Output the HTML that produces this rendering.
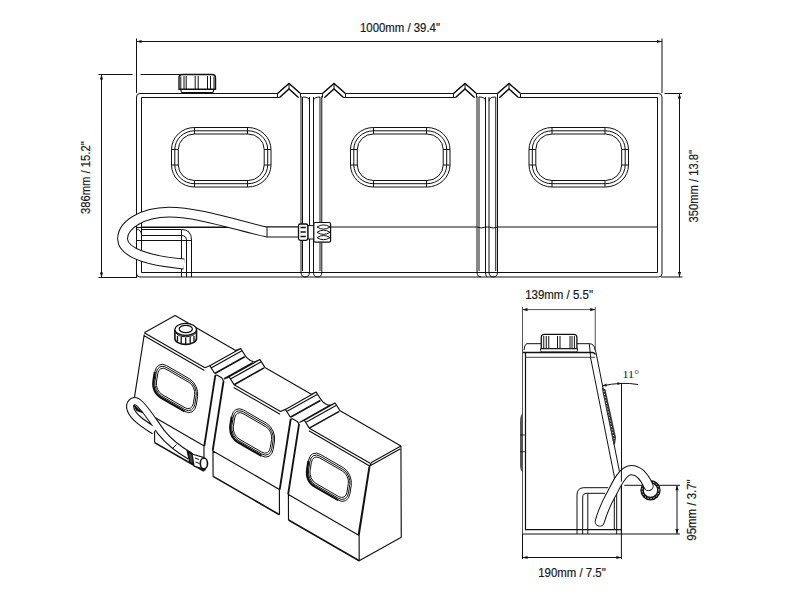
<!DOCTYPE html>
<html><head><meta charset="utf-8">
<style>
html,body{margin:0;padding:0;background:#fff;width:800px;height:600px;overflow:hidden}
svg{display:block}
text{font-family:"Liberation Sans",sans-serif;fill:#1a1a1a;stroke:#1a1a1a;stroke-width:0.2px}
</style></head><body>
<svg width="800" height="600" viewBox="0 0 800 600">
<defs>
<g id="winshape">
<rect x="171.5" y="127.5" width="99.5" height="59.5" rx="23" ry="22"/>
<rect x="174.8" y="130.8" width="92.9" height="52.9" rx="19.7" ry="18.7"/>
<rect x="178.3" y="134" width="85.9" height="46.5" rx="16.2" ry="15.5"/>
</g>
<g id="winiso">
<rect x="171.5" y="127.5" width="99.5" height="59.5" rx="23" ry="22" vector-effect="non-scaling-stroke"/>
<rect x="174.8" y="130.8" width="92.9" height="52.9" rx="19.7" ry="18.7" vector-effect="non-scaling-stroke"/>
<rect x="178.3" y="134" width="85.9" height="46.5" rx="16.2" ry="15.5" vector-effect="non-scaling-stroke"/>
<path d="M171.5 150 V164 Q171.5 187 194.5 187 H248" stroke-width="2.2" vector-effect="non-scaling-stroke"/>
</g>
</defs>
<g fill="none" stroke="#111" stroke-width="1">
<!-- ===== FRONT VIEW: dimensions ===== -->
<path d="M136.5 38.5V93 M662 38.5V93 M136.5 41.5H662"/>
<path d="M98.5 74.5H132.5 M140.5 74.5H180 M101.5 74.5V277.5 M98.5 277.5H137"/>
<path d="M664.5 93.5H682 M679.5 93.5V277 M661 277H682.5"/>
</g>
<g fill="#111" stroke="none">
<path d="M136.5 41.5l5 -1.6v3.2z M662 41.5l-5 -1.6v3.2z"/>
<path d="M101.5 74.5l-1.6 5h3.2z M101.5 277.5l-1.6 -5h3.2z"/>
<path d="M679.5 93.5l-1.6 5h3.2z M679.5 277l-1.6 -5h3.2z"/>
</g>
<text x="360" y="31.6" font-size="12" textLength="80" lengthAdjust="spacingAndGlyphs">1000mm / 39.4"</text>
<text transform="translate(90,214) rotate(-90)" font-size="12" textLength="72.7" lengthAdjust="spacingAndGlyphs">386mm / 15.2"</text>
<text transform="translate(698,222.5) rotate(-90)" font-size="12" textLength="72.5" lengthAdjust="spacingAndGlyphs">350mm / 13.8"</text>

<g fill="none" stroke="#111" stroke-width="1">
<!-- tank outline top with notches -->
<path d="M136.5 277V97 Q136.5 93.5 140 93.5 H277.5 L289 83.5 L300.5 93.5 H322.5 L334 83.5 L345.5 93.5 H453.5 L465 83.5 L476.5 93.5 H497.5 L509 83.5 L520.5 93.5 H658.5 Q662 93.5 662 97 V273.5 Q662 277 658.5 277 H140 Q136.5 277 136.5 273.5"/>
<path d="M141.5 272.5V97.5 H279.5 L289 89 L298.5 97.5 M324.5 97.5 L334 89 L343.5 97.5 H455.5 L465 89 L474.5 97.5 M499.5 97.5 L509 89 L518.5 97.5 H657.5 V272.5 H141.5"/>
<path d="M277.5 93.5 L289 83.5 L300.5 93.5 M322.5 93.5 L334 83.5 L345.5 93.5 M453.5 93.5 L465 83.5 L476.5 93.5 M497.5 93.5 L509 83.5 L520.5 93.5 M279.5 97.5 L289 89 L298.5 97.5 M324.5 97.5 L334 89 L343.5 97.5 M455.5 97.5 L465 89 L474.5 97.5 M499.5 97.5 L509 89 L518.5 97.5" stroke-width="1.35"/>
<path d="M277.5 93.5V97.5 M289 83.5V89 M300.5 93.5V97.5 M322.5 93.5V97.5 M334 83.5V89 M345.5 93.5V97.5 M453.5 93.5V97.5 M465 83.5V89 M476.5 93.5V97.5 M497.5 93.5V97.5 M509 83.5V89 M520.5 93.5V97.5"/>
<!-- separators -->
<path d="M301 96V272 Q301 277 305 277 M302.5 97V271 M309.5 97V272 Q309.5 277 305 277 M313.5 97V272 Q313.5 277 317.5 277 M320 97V271 M321.8 96V272 Q322 277 317.5 277"/>
<path d="M303 97Q309.5 97 309.5 101 M313.5 101 Q313.5 97 320 97"/>
<path d="M477 96V272 Q477 277 481 277 M479 97V271 M485.5 97V272 Q485.5 277 487.3 277 M489 97V272 Q489 277 493 277 M495.75 97V271 M497.5 96V272 Q497.5 277 493 277"/>
<path d="M479 97Q485.5 97 485.5 101 M489 101 Q489 97 495.5 97"/>
<!-- mid horizontal line -->
<path d="M141.5 227H298.5 M331 227H477 Q481 229 485.5 227 H489 Q493 229 497.5 227 H657.5"/>
<!-- windows -->
<g id="win">
<rect x="171.5" y="127.5" width="99.5" height="59.5" rx="23" ry="22"/>
<rect x="174.8" y="130.8" width="92.9" height="52.9" rx="19.7" ry="18.7"/>
<rect x="178.3" y="134" width="85.9" height="46.5" rx="16.2" ry="15.5"/>
<path d="M194.5 127.5V134 M247.5 127.5V134 M194.5 180.5V187 M247.5 180.5V187 M171.5 149.5H178.3 M171.5 165H178.3 M264.2 149.5H271 M264.2 165H271"/>
</g>
<use href="#win" x="179"/>
<use href="#win" x="357.5"/>
<!-- bracket -->
<path d="M136.5 227.5H300 M141.5 229.5H181.5 Q191.5 229.5 191.5 240 V277 M141.5 235.5H181.5 Q186.5 235.5 186.5 240.5 V277 M136.5 240.5H191.5 M181.5 229.5V277 M136.5 229 Q141.5 230 141.5 235"/>
<!-- hose -->
</g>
<g fill="none" stroke-linecap="butt">
<path d="M298.5 232 H267 C240 226.5 200 212.2 168.8 212.2 C142.5 212.5 122.75 224.5 122.55 238.9 C122.75 253 150 261 184 264" stroke="#111" stroke-width="10.8"/>
<path d="M298.5 232 H267 C240 226.5 200 212.2 168.8 212.2 C142.5 212.5 122.75 224.5 122.55 238.9 C122.75 253 150 261 184 264" stroke="#fff" stroke-width="8.8"/>
<path d="M267 227V237 M186.5 240V277 M191.5 240V277" stroke="#111" stroke-width="1"/>
</g>
<!-- connector -->
<g fill="#fff" stroke="#111" stroke-width="1">
<rect x="307.8" y="225.6" width="6" height="13.4"/>
<rect x="298.5" y="224" width="9.3" height="16.4" rx="1.8" stroke-width="1.3"/>
<rect x="313.8" y="222.5" width="16.8" height="19.7" rx="1.5" stroke-width="1.2"/>
</g>
<g fill="none" stroke="#111">
<path d="M300.5 227.5H305.8 M300.5 232H305.8 M300.5 236.5H305.8" stroke-width="1.6"/>
<path d="M317 227 Q323.5 222.8 330 227 Q323.5 231.2 317 227 M317 232.3 Q323.5 228.1 330 232.3 Q323.5 236.5 317 232.3 M317 237.6 Q323.5 233.4 330 237.6 Q323.5 241.8 317 237.6" stroke-width="1"/>
</g>
<!-- cap front view -->
<g fill="#fff" stroke="#111">
<path d="M181 89 H213.5 V91 Q213.5 92.6 212 92.6 H182.5 Q181 92.6 181 91 Z" stroke-width="1.1"/>
<path d="M179 89.2 V78 Q179 74.5 182.5 74.5 H212 Q215.5 74.5 215.5 78 V89.2 Z" stroke-width="1.4"/>
</g>
<g fill="none" stroke="#111" stroke-width="1">
<path d="M180.8 76.5V89 M184 76V89 M186.2 76V89 M195.2 76V89 M198.2 76V89 M207.5 76V89 M210.5 76V89 M214 76.5V89"/>
</g>

<g id="side" fill="none" stroke="#111" stroke-width="1">
<path d="M522.5 307V534 M595.25 307V350 M522.5 309.6H595.25" stroke="#555"/>
<path d="M526.5 343.7 H589.5 Q594 343.7 595 349.5 L596 352.5 L621.4 481.5 V534 H522.5"/>
<path d="M524 350 Q524.5 345 526.5 343.7 M589.3 343.7 L590.6 357"/>
<path d="M523 352.4H592.5 Q594.5 352.6 595.5 354.5" stroke-width="1.5"/>
<path d="M526 357.3H595" stroke="#444"/>
<path d="M525.5 352.4V529.6 H621.4" stroke-width="1.2"/>
<path d="M590.5 357.3 L614.3 476.3 V529.6"/>
<path d="M621.4 485.3V534 M624.3 485.3H680 M621.4 534H680 M677 485.3V534"/>
<path d="M522.5 534V559 M621.4 534V559 M522.5 557.5H621.4"/>
<path d="M621.5 383V483 M602 386 Q621 381.5 638 384.5"/>
<path d="M577 534V495 Q577 487.7 584 487.7 H608 M582.7 534V497 Q582.7 493.3 587 493.3 H605 M587.8 493.3V534 M616.7 493.3V534"/>
</g>
<g fill="#111" stroke="none">
<path d="M522.5 309.6l5 -1.6v3.2z M595.25 309.6l-5 -1.6v3.2z"/>
<path d="M522.5 557.5l5 -1.6v3.2z M621.4 557.5l-5 -1.6v3.2z"/>
<path d="M677 485.3l-1.6 5h3.2z M677 534l-1.6 -5h3.2z"/>
<path d="M621.5 383.5l-4 -1.3v2.8z M602.5 385.8l4 -2.2v2.8z"/>
</g>
<path d="M520 422 Q520 415 522.5 413.5 V472 Q520 470 520 466 Z" fill="#555"/>
<path d="M520 435H525 M520 451.7H525" stroke="#111" stroke-width="0.8"/>
<path d="M601.8 387.5 L605.5 389.5 L616 437.5 L615 444.5 L613.5 444.5 L602.5 392 Z" fill="#333"/>
<path d="M603.8 391 L614.6 441" stroke="#fff" stroke-width="0.9" stroke-dasharray="1 2"/>
<text x="525.2" y="299" font-size="12" textLength="67.8" lengthAdjust="spacingAndGlyphs">139mm / 5.5"</text>
<text x="538.25" y="576.75" font-size="12" textLength="67.5" lengthAdjust="spacingAndGlyphs">190mm / 7.5"</text>
<text transform="translate(696,540.7) rotate(-90)" font-size="12" textLength="61.4" lengthAdjust="spacingAndGlyphs">95mm / 3.7"</text>
<text x="622.5" y="377.8" font-size="10.5" textLength="16.5" lengthAdjust="spacingAndGlyphs" style="font-family:'Liberation Serif',serif;stroke:none">11°</text>
<!-- side hose -->
<circle cx="650.5" cy="490.2" r="8.4" fill="#fff" stroke="#111" stroke-width="3.6"/>
<circle cx="650.5" cy="490.2" r="8.4" fill="none" stroke="#fff" stroke-width="1" stroke-dasharray="1.2 1.8"/>
<g fill="none">
<path d="M599.8 521.5 C603 510 608 500 612 493 C617 483 623 470.5 631 470.2 C639 470 644 476 648.5 486" stroke="#111" stroke-width="10.2" stroke-linecap="round"/>
<path d="M599.8 521.5 C603 510 608 500 612 493 C617 483 623 470.5 631 470.2 C639 470 644 476 648.5 486" stroke="#fff" stroke-width="8.2" stroke-linecap="round"/>
</g>
<path d="M621.4 470V481.5" stroke="#111" stroke-width="1"/>
<!-- side cap -->
<g fill="#fff" stroke="#111" stroke-width="1">
<path d="M541.25 348.75 V337.5 Q541.25 334.4 544.5 334.4 H573.5 Q576.9 334.4 576.9 337.5 V348.75 Z" stroke-width="1.3"/>
<path d="M540.5 348.75 H577.5 V350.5 Q577.5 351.9 576 351.9 H542 Q540.5 351.9 540.5 350.5 Z"/>
</g>
<path d="M543.75 336V348.75 M546.25 336V348.75 M548.75 336V348.75 M557.5 336V348.75 M560 336V348.75 M570 336V348.75 M572 336V348.75 M574.4 336V348.75" fill="none" stroke="#111" stroke-width="1"/>

<g id="iso">
<g fill="none" stroke="#111" stroke-width="1.15" stroke-linejoin="round">
<path d="M175.08 315.52 L235.68 350.53 L240.6 348.41 L245.56 356.24 L247.5 358.35 L250.29 360.47 L253.09 361.58 L255.02 361.71 L259.94 359.59 L264.9 367.42 L311.32 394.24 L316.24 392.12 L321.2 399.95 L322.93 401.94 L325.72 404.05 L328.51 405.16 L330.23 405.16 L335.15 403.05 L340.11 410.87 L400.93 446.01 M175.08 315.52 L144.25 332.78 M144.25 332.78 L204.85 367.79 M143.83 335.51 L204.43 370.52 M234.08 384.68 L280.49 411.5 M233.66 387.41 L280.07 414.23 M309.29 428.14 L370.1 463.28 M308.87 430.86 L369.68 466 M204.85 367.79 L209.78 365.68 L214.74 373.51 M224.19 378.97 L229.12 376.85 L234.08 384.68 M280.49 411.5 L285.42 409.38 L290.38 417.21 M299.4 422.43 L304.33 420.31 L309.29 428.14 M240.6 348.41 L209.78 365.68 M241.47 350.89 L211.07 367.92 M259.94 359.59 L229.12 376.85 M260.81 362.07 L230.41 379.09 M316.24 392.12 L285.42 409.38 M317.11 394.6 L286.71 411.62 M335.15 403.05 L304.33 420.31 M336.02 405.52 L305.62 422.55 M214.54 377.6 L215.39 375.37 L216.89 375 L221.61 377.73 L222.91 379.71 L223.56 382.81 M290.18 421.3 L291.03 419.07 L292.53 418.7 L297.25 421.43 L298.55 423.42 L299.2 426.52 M252.87 362.42 L223.76 378.72 M328.52 406.12 L299.4 422.43 M400.93 446.01 L401.27 537.25 L359.21 560.81 L359.11 535.45 L370.11 465.02 L371.39 462.56 L400.93 446.01 M369.25 465.26 L358.25 534.95 M400.08 448.98 L370.54 465.52 M144.26 334.52 L133.95 400.59 M154.54 417.25 L203.75 445.68 M212.99 451.02 L279.39 489.38 M288.41 494.6 L359.11 535.45 M154.57 426.69 L154.63 442.6 M214.96 375.37 L203.96 445.8 L204.06 471.16 M223.98 380.59 L212.99 451.02 L213.08 476.38 M215.6 375.74 L204.61 446.18 M223.34 380.21 L212.34 450.65 M290.38 418.95 L279.39 489.38 L279.48 514.74 M299.41 424.17 L288.41 494.6 L288.51 519.96 M291.03 419.32 L280.03 489.76 M298.76 423.79 L287.77 494.23"/>
</g>
<g fill="none" stroke="#111" stroke-width="1.6" stroke-linejoin="round">
<path d="M244.71 356.72 L214.74 373.51 M264.05 367.9 L234.08 384.68 M320.35 400.43 L290.38 417.21 M339.26 411.35 L309.29 428.14 M154.63 442.6 L203.84 471.04 M213.08 476.38 L279.48 514.74 M288.51 519.96 L359.21 560.81"/>
</g>
<g fill="none" stroke="#111" stroke-width="1">
<g transform="matrix(0.42978 0.24832 -0.08523 0.54600 93.863 247.663)">
<use href="#winiso"/><use href="#winiso" x="179"/><use href="#winiso" x="357.5"/>
</g>
</g>
<!-- iso cap -->
<g stroke="#111" stroke-width="1.2">
<path d="M174.9 329.4 V338.4 A10.8 6 0 0 0 196.5 338.4 V329.4" fill="#fff" stroke-width="1.6"/>
<ellipse cx="185.7" cy="329.4" rx="10.8" ry="6" fill="#fff"/>
<ellipse cx="185.8" cy="329" rx="6.6" ry="3.7" fill="#fff"/>
<path d="M175.5 332.5 A10.8 6.2 0 0 0 196 332.5" fill="none" stroke-width="1"/>
<path d="M177.5 336V341.5 M181.2 337V343.5 M185.7 337.5V344 M190.2 337V343.5 M194 336V341.5" fill="none" stroke-width="1.3"/>
</g>
<!-- iso hose -->
<g fill="none" stroke-linecap="butt" stroke-linejoin="round">
<path d="M154.5 431 C144 424 134 418 130.8 410 C128.5 403.5 132.5 399.5 137.5 402 C143 405 151 418 161 432 C169 442 176 448 190 456" stroke="#111" stroke-width="8.2"/>
<path d="M154.5 431 C144 424 134 418 130.8 410 C128.5 403.5 132.5 399.5 137.5 402 C143 405 151 418 161 432 C169 442 176 448 190 456" stroke="#fff" stroke-width="6"/>
</g>

<path d="M134 405.2 L143 412.8 L136.5 410.5 Z" fill="#111" stroke="#111" stroke-width="1"/>
<path d="M172.5 448.5 L176.5 444.5" stroke="#111" stroke-width="1" fill="none"/>
<g stroke="#111" fill="#fff">
<path d="M187.5 451.5 L192.5 454 L195.5 465 L190 462.5 Z" stroke-width="1.6" fill="#444"/>
<path d="M192 454 L203.5 457.5 L205 469.5 L194 466 Z" stroke-width="1.3"/>
<ellipse cx="203.9" cy="463.4" rx="3.6" ry="5.4" stroke-width="1.6"/>
<path d="M195 458 L199 459.5 M195.5 462 L199.5 463.5" stroke-width="1" fill="none"/>
</g>

</g>
</svg>
</body></html>
